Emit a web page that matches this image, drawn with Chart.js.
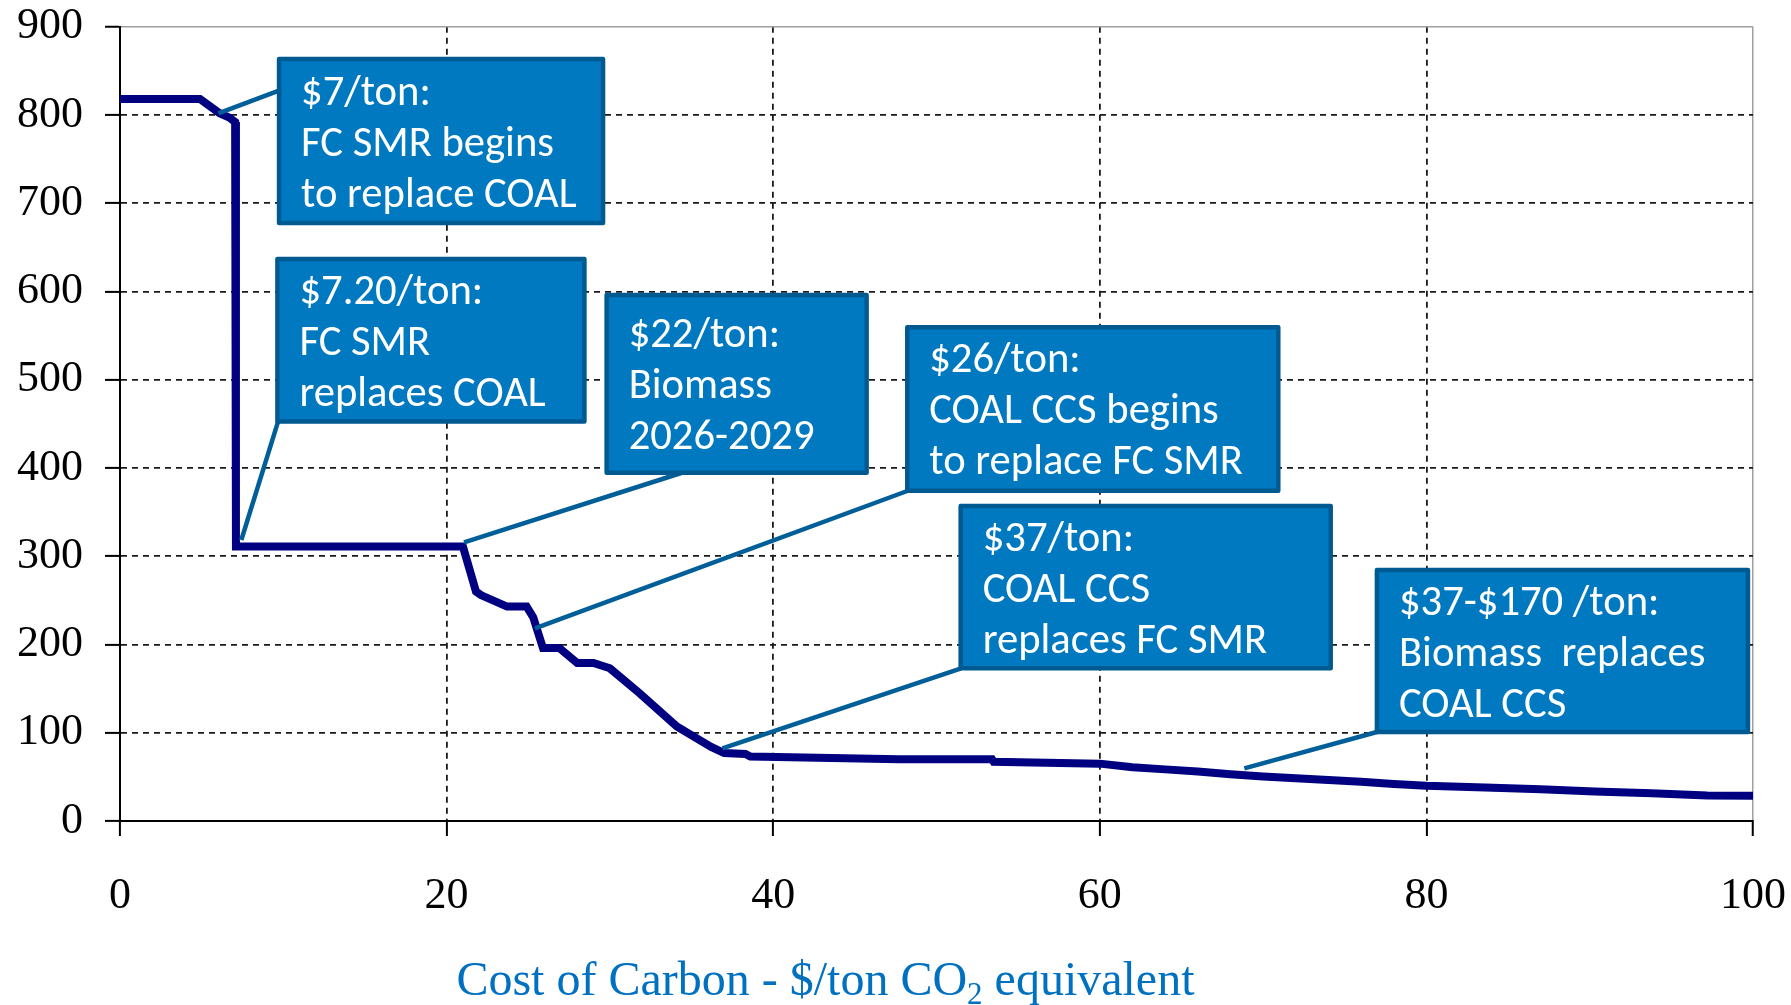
<!DOCTYPE html>
<html>
<head>
<meta charset="utf-8">
<script src="https://cdn.jsdelivr.net/npm/chart.js@4.4.1/dist/chart.umd.min.js"></script>
<style>
  html, body { margin: 0; padding: 0; background: #ffffff; }
  canvas { display: block; }
</style>
</head>
<body>
<canvas id="chart" width="1791" height="1005"></canvas>
<script>
// ---------- DATA ----------
const costOfCarbon = [0, 4.9, 6.1, 6.7, 7.05, 7.1, 21.0, 21.8, 22.1, 23.7, 24.9, 25.3, 25.9, 26.9, 28.0,
  29.0, 30.0, 31.8, 34.1, 36.2, 37.0, 38.3, 38.6, 47.7, 53.4, 53.5, 60, 62, 64, 66,
  68, 70, 72, 74, 76, 78, 80, 83.6, 87, 90.3, 93.8, 97.2, 100];
const emissions = [818, 818, 802, 797, 792, 311, 311, 260, 256, 243, 243, 231, 196, 196, 179,
  179, 173, 145, 107, 84, 77, 76, 73, 70, 70, 67, 65, 61, 58.5, 56,
  53, 50.5, 48.5, 46.5, 44.5, 42, 40, 38, 36, 33.5, 31.5, 29, 28.5];

const xTickValues = [0, 20, 40, 60, 80, 100];
const yTickValues = [0, 100, 200, 300, 400, 500, 600, 700, 800, 900];

const xAxisTitleParts = ['Cost of Carbon - $/ton CO', '2', ' equivalent'];

const calloutTexts = [
  ['$7/ton:', 'FC SMR begins', 'to replace COAL'],
  ['$7.20/ton:', 'FC SMR', 'replaces COAL'],
  ['$22/ton:', 'Biomass', '2026-2029'],
  ['$26/ton:', 'COAL CCS begins', 'to replace FC SMR'],
  ['$37/ton:', 'COAL CCS', 'replaces FC SMR'],
  ['$37-$170 /ton:', 'Biomass  replaces', 'COAL CCS']
];
// points on the curve each callout refers to
const calloutTipCost = [6.02, 7.43, 21.07, 25.41, 36.89, 68.85];
const calloutTipValue = [801.8, 318.4, 315.8, 218.3, 82.4, 59.7];

// ---------- LAYOUT (axis units) ----------
const calloutLayout = [
  { x1: 9.74,  x2: 29.58, y1: 863.4, y2: 677.5, sx: 9.69,  sy: 827.4, first: 46 },
  { x1: 9.64,  x2: 28.44, y1: 636.8, y2: 452.6, sx: 9.68,  sy: 452.6, first: 45 },
  { x1: 29.80, x2: 45.72, y1: 596.0, y2: 394.6, sx: 34.41, sy: 394.6, first: 52 },
  { x1: 48.21, x2: 70.93, y1: 559.4, y2: 374.2, sx: 48.25, sy: 374.2, first: 45 },
  { x1: 51.48, x2: 74.14, y1: 356.9, y2: 173.0, sx: 51.51, sy: 173.0, first: 45 },
  { x1: 76.97, x2: 99.69, y1: 284.4, y2: 100.8, sx: 76.97, sy: 100.8, first: 45 }
];

const serif = "'Liberation Serif', 'Times New Roman', serif";
const boxFamily = "Carlito, Calibri, Lato, 'Open Sans', sans-serif";

const calloutPlugin = {
  id: 'callouts',
  afterDatasetsDraw(chart) {
    const { ctx, scales: { x, y } } = chart;
    ctx.save();
    // leader lines
    ctx.strokeStyle = '#005E98';
    ctx.lineWidth = 4.5;
    ctx.lineCap = 'butt';
    calloutLayout.forEach((b, i) => {
      ctx.beginPath();
      ctx.moveTo(x.getPixelForValue(b.sx), y.getPixelForValue(b.sy));
      ctx.lineTo(x.getPixelForValue(calloutTipCost[i]), y.getPixelForValue(calloutTipValue[i]));
      ctx.stroke();
    });
    // boxes
    ctx.font = '42px ' + boxFamily;
    const w = ctx.measureText('FC SMR begins').width;
    const size = Math.max(32, Math.min(48, 42 * 253 / w));
    calloutLayout.forEach((b, i) => {
      const l = x.getPixelForValue(b.x1), r = x.getPixelForValue(b.x2);
      const t = y.getPixelForValue(b.y1), bt = y.getPixelForValue(b.y2);
      ctx.fillStyle = '#0079C1';
      ctx.fillRect(l, t, r - l, bt - t);
      ctx.strokeStyle = '#005A92';
      ctx.lineWidth = 4.5;
      ctx.lineJoin = 'round';
      ctx.strokeRect(l, t, r - l, bt - t);
      ctx.fillStyle = '#ffffff';
      ctx.font = size + 'px ' + boxFamily;
      ctx.textAlign = 'left';
      ctx.textBaseline = 'alphabetic';
      calloutTexts[i].forEach((line, j) => {
        ctx.fillText(line, l + 22, t + b.first + j * 50.8);
      });
    });
    ctx.restore();
  }
};

const titlePlugin = {
  id: 'xtitle',
  afterDraw(chart) {
    const { ctx, chartArea } = chart;
    ctx.save();
    ctx.fillStyle = '#0070C0';
    ctx.textBaseline = 'alphabetic';
    ctx.textAlign = 'left';
    const big = '48px ' + serif, small = '31px ' + serif;
    ctx.font = big;
    const w0 = ctx.measureText(xAxisTitleParts[0]).width;
    const w2 = ctx.measureText(xAxisTitleParts[2]).width;
    ctx.font = small;
    const w1 = ctx.measureText(xAxisTitleParts[1]).width;
    const total = w0 + w1 + w2;
    const cx = chartArea.left + 0.432 * (chartArea.right - chartArea.left);
    let px = cx - total / 2;
    const base = chartArea.bottom + 174;
    ctx.font = big;
    ctx.fillText(xAxisTitleParts[0], px, base);
    px += w0;
    ctx.font = small;
    ctx.fillText(xAxisTitleParts[1], px, base + 9);
    px += w1;
    ctx.font = big;
    ctx.fillText(xAxisTitleParts[2], px, base);
    ctx.restore();
  }
};

const points = costOfCarbon.map((c, i) => ({ x: c, y: emissions[i] }));

function zeroPad(s) {
  s.paddingTop = 0; s.paddingBottom = 0; s.paddingLeft = 0; s.paddingRight = 0;
}

new Chart(document.getElementById('chart'), {
  type: 'line',
  data: {
    datasets: [{
      data: points,
      borderColor: '#000080',
      borderWidth: 8,
      pointRadius: 0,
      pointHoverRadius: 0,
      tension: 0,
      fill: false
    }]
  },
  options: {
    responsive: false,
    animation: false,
    events: [],
    layout: { padding: { top: 26.7, right: 38, left: 0, bottom: 0 } },
    plugins: { legend: { display: false }, tooltip: { enabled: false }, title: { display: false } },
    scales: {
      x: {
        type: 'linear',
        min: xTickValues[0],
        max: xTickValues[xTickValues.length - 1],
        afterBuildTicks: (s) => { s.ticks = xTickValues.map(v => ({ value: v })); },
        afterFit: (s) => { s.height = 184; zeroPad(s); },
        ticks: {
          font: { family: serif, size: 44 },
          color: '#000',
          padding: 34,
          maxRotation: 0,
          autoSkip: false,
          callback: (v) => String(v)
        },
        grid: {
          color: (c) => c.tick && c.tick.value === 100 ? '#a0a0a0' : (c.tick && c.tick.value === 0 ? 'rgba(0,0,0,0)' : '#1a1a1a'),
          lineWidth: (c) => c.tick && c.tick.value === 100 ? 1.5 : 1.8,
          tickLength: 15,
          tickColor: '#000',
          tickWidth: 2
        },
        border: {
          display: true,
          color: '#000',
          width: 2,
          dash: (c) => (c.tick && c.tick.value === 100) ? [] : [6, 5]
        }
      },
      y: {
        type: 'linear',
        min: yTickValues[0],
        max: yTickValues[yTickValues.length - 1],
        afterBuildTicks: (s) => { s.ticks = yTickValues.map(v => ({ value: v })); },
        afterFit: (s) => { s.width = 120; zeroPad(s); },
        ticks: {
          font: { family: serif, size: 44 },
          color: '#000',
          padding: 22,
          callback: (v) => String(v)
        },
        grid: {
          color: (c) => c.tick && c.tick.value === 900 ? '#a0a0a0' : (c.tick && c.tick.value === 0 ? 'rgba(0,0,0,0)' : '#1a1a1a'),
          lineWidth: (c) => c.tick && c.tick.value === 900 ? 1.5 : 1.8,
          tickLength: 15,
          tickColor: '#000',
          tickWidth: 2
        },
        border: {
          display: true,
          color: '#000',
          width: 2,
          dash: (c) => (c.tick && c.tick.value === 900) ? [] : [6, 5]
        }
      }
    }
  },
  plugins: [calloutPlugin, titlePlugin]
});
</script>
</body>
</html>
